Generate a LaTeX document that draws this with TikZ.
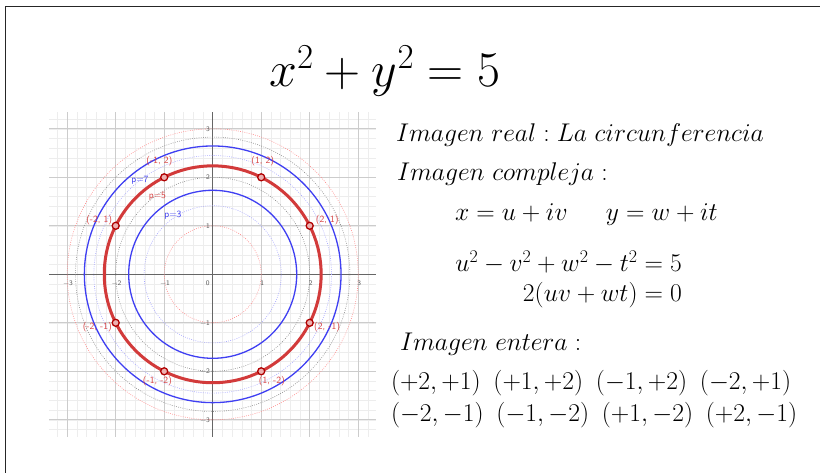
\RequirePackage{fix-cm}
\documentclass[tikz,border=0pt]{standalone}
\usepackage{amsmath}
\definecolor{ggblue}{HTML}{3F3FF2}
\definecolor{ggred}{HTML}{D23A3A}
\definecolor{ptred}{HTML}{B00000}
\definecolor{lblred}{HTML}{D84040}
\begin{document}
\begin{tikzpicture}[x=1pt,y=-1pt,
  every node/.style={inner sep=0pt, outer sep=0pt},
  txt/.style={font=\fontsize{25.6}{30}\selectfont, anchor=base west},
  minorgrid/.style={draw=black!7, line width=0.5pt},
  majorgrid/.style={draw=black!20, line width=0.7pt},
  axisline/.style={draw=black!60, line width=1pt},
  ticklbl/.style={font=\sffamily\fontsize{7}{8}\selectfont, text=black!65},
  bluecirc/.style={draw=ggblue, line width=1.3pt},
  redcirc/.style={draw=ggred, line width=3pt},
  dotc/.style={line width=0.6pt, dash pattern=on 0.8pt off 1.4pt},
  ptmark/.style={circle, draw=ptred, line width=1.3pt, minimum size=7pt, fill=ggred!40},
  ptlbl/.style={font=\sffamily\fontsize{9.5}{10}\selectfont, text=lblred},
  plbl/.style={font=\sffamily\fontsize{9.5}{10}\selectfont}]
\useasboundingbox (0,0) rectangle (820,473);
\fill[white] (0,0) rectangle (820,473);
\draw[black!85, line width=1.5pt] (5.5,473) -- (5.5,6.5) -- (820,6.5);

% title
\node[font=\fontsize{50}{56}\selectfont, anchor=base] (title) at (385,87) {$x^2+y^2=5$};

% graph
\begin{scope}[shift={(212.7,274.3)}, x=48.5pt, y=48.5pt]
  \draw[minorgrid] (-3.37,-3.35) grid[step=0.2] (3.37,3.35);
  \draw[majorgrid] (-3.37,-3.35) grid[step=1] (3.37,3.35);
  \draw[axisline] (-3.37,0) -- (3.37,0);
  \draw[axisline] (0,-3.35) -- (0,3.35);
  \foreach \v/\t in {-3/{−3},-2/{−2},-1/{−1},1/1,2/2,3/3} {
    \node[ticklbl] at (\v+0.02,-0.18) {\t};
    \node[ticklbl, anchor=east] at (-0.06,\v) {\t};
  }
  \node[ticklbl] (zero) at (-0.1,-0.18) {0};
  % dotted circles
  \draw[dotc, draw=red!45] (0,0) circle[radius=1];
  \draw[dotc, draw=blue!35] (0,0) circle[radius=1.4142];
  \draw[dotc, draw=black!45] (0,0) circle[radius=2];
  \draw[dotc, draw=blue!35] (0,0) circle[radius=2.4495];
  \draw[dotc, draw=black!45] (0,0) circle[radius=2.8284];
  \draw[dotc, draw=red!45] (0,0) circle[radius=3];
  % solid circles
  \draw[bluecirc] (0,0) circle[radius=1.7321];
  \draw[bluecirc] (0,0) circle[radius=2.6458];
  \draw[redcirc] (0,0) circle[radius=2.2361];
  % points
  \node[ptmark] (pA) at (2,1) {};
  \node[ptmark] (pB) at (1,2) {};
  \node[ptmark] (pC) at (-1,2) {};
  \node[ptmark] (pD) at (-2,1) {};
  \node[ptmark] (pE) at (-2,-1) {};
  \node[ptmark] (pF) at (-1,-2) {};
  \node[ptmark] (pG) at (1,-2) {};
  \node[ptmark] (pH) at (2,-1) {};
  \node[ptlbl] (lA) at (2.36,1.12) {(2, 1)};
  \node[ptlbl] (lB) at (1.03,2.34) {(1, 2)};
  \node[ptlbl] (lC) at (-1.10,2.34) {(-1, 2)};
  \node[ptlbl] (lD) at (-2.34,1.12) {(-2, 1)};
  \node[ptlbl] (lE) at (-2.38,-1.09) {(-2, -1)};
  \node[ptlbl] (lF) at (-1.14,-2.21) {(-1, -2)};
  \node[ptlbl] (lG) at (1.22,-2.21) {(1, -2)};
  \node[ptlbl] (lH) at (2.36,-1.09) {(2, -1)};
  \node[plbl, text=ggblue] (p7) at (-1.50,1.93) {p=7};
  \node[plbl, text=lblred] (p5) at (-1.14,1.60) {p=5};
  \node[plbl, text=ggblue] (p3) at (-0.82,1.22) {p=3};
\end{scope}

% text block
\node[txt] (l1) at (396,142) {$Imagen\ real : La\ circunferencia$};
\node[txt] (l2) at (397,181) {$Imagen\ compleja :$};
\node[txt] (l3) at (455,221) {$x=u+iv\hspace{1.5em}y=w+it$};
\node[txt, anchor=base east] (l4) at (682,272) {$u^2-v^2+w^2-t^2=5$};
\node[txt, anchor=base east] (l5) at (682,302) {$2(uv+wt)=0$};
\node[txt] (l6) at (400,350) {$Imagen\ entera :$};
\node[txt] (l7) at (391,389) {$(+2,+1)$\hspace{0.5em}$(+1,+2)$\hspace{0.5em}$(-1,+2)$\hspace{0.5em}$(-2,+1)$};
\node[txt] (l8) at (391,421) {$(-2,-1)$\hspace{0.5em}$(-1,-2)$\hspace{0.5em}$(+1,-2)$\hspace{0.5em}$(+2,-1)$};
\end{tikzpicture}
\end{document}
